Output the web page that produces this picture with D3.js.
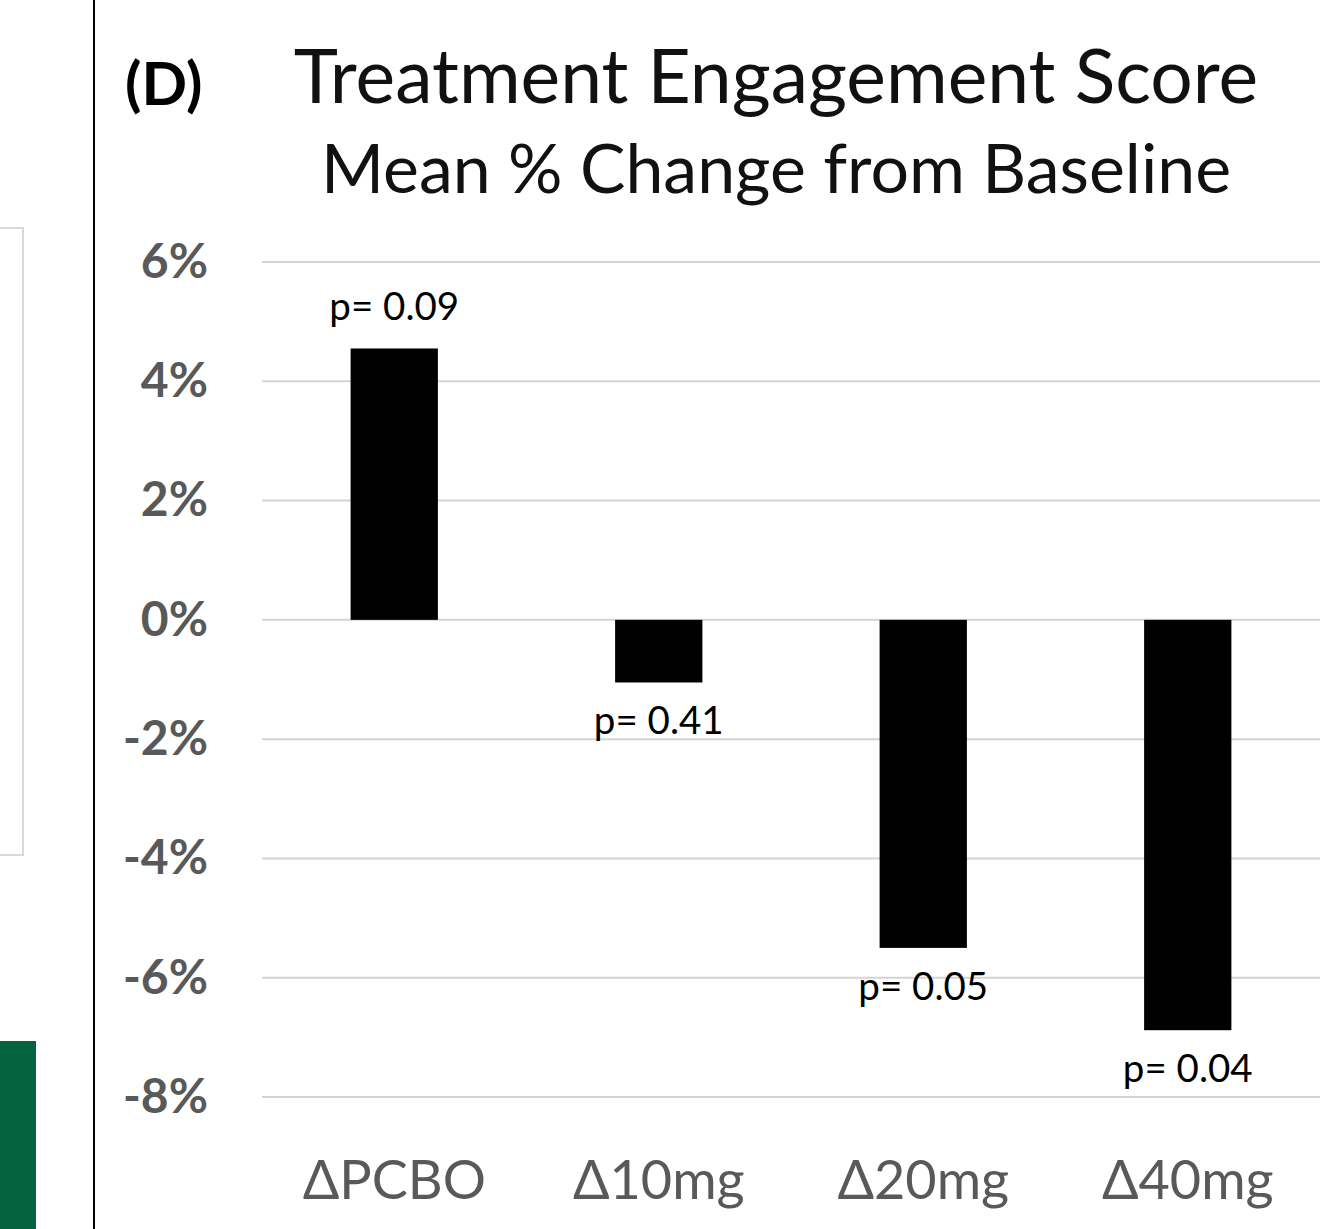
<!DOCTYPE html>
<html>
<head>
<meta charset="utf-8">
<script src="https://cdn.jsdelivr.net/npm/d3@7"></script>
<style>
  body { margin: 0; background: #fff; }
  svg { display: block; font-family: Lato, "Open Sans", sans-serif; }
</style>
</head>
<body>
<svg width="1321" height="1229"></svg>
<script>
const categories = ["ΔPCBO", "Δ10mg", "Δ20mg", "Δ40mg"];
const meanChange = [4.55, -1.05, -5.5, -6.88];
const pValues = ["p= 0.09", "p= 0.41", "p= 0.05", "p= 0.04"];
const yTicks = [6, 4, 2, 0, -2, -4, -6, -8];

const svg = d3.select("svg");

// bits of the neighbouring panels
svg.append("rect")
    .attr("x", -10).attr("y", 228)
    .attr("width", 33).attr("height", 627)
    .attr("fill", "none")
    .attr("stroke", "#d9d9d9")
    .attr("stroke-width", 2);

svg.append("rect")
    .attr("x", 0).attr("y", 1041)
    .attr("width", 36).attr("height", 188)
    .attr("fill", "#056340");

svg.append("line")
    .attr("x1", 94).attr("x2", 94)
    .attr("y1", 0).attr("y2", 1229)
    .attr("stroke", "#000")
    .attr("stroke-width", 2);

const margin = {top: 262, left: 262, right: 1, bottom: 132};
const width = 1321 - margin.left - margin.right,
      height = 1229 - margin.top - margin.bottom;

const g = svg.append("g")
    .attr("transform", `translate(${margin.left},${margin.top})`);

const x = d3.scaleBand()
    .domain(categories)
    .range([0, width]);

const y = d3.scaleLinear()
    .domain([6, -8])
    .range([0, 1097 - 262]);

// grid lines
g.selectAll(".grid")
    .data(yTicks)
    .enter().append("line")
    .attr("class", "grid")
    .attr("x1", 0).attr("x2", width)
    .attr("y1", d => y(d)).attr("y2", d => y(d))
    .attr("stroke", "#d4d4d4")
    .attr("stroke-width", 2);

// y axis labels
const yAxis = g.append("g")
    .attr("class", "y-axis")
    .call(d3.axisLeft(y).tickValues(yTicks).tickFormat(d => d + "%").tickSize(0).tickPadding(54));
yAxis.select(".domain").remove();
yAxis.selectAll("text")
    .attr("fill", "#595959")
    .style("font-size", "48px")
    .style("font-weight", "bold")
    .style("font-family", "Lato, sans-serif");

// x axis labels
const xAxis = g.append("g")
    .attr("class", "x-axis")
    .attr("transform", `translate(0,${y(-8)})`)
    .call(d3.axisBottom(x).tickSize(0).tickPadding(64));
xAxis.select(".domain").remove();
xAxis.selectAll("text")
    .attr("fill", "#595959")
    .style("font-size", "54px")
    .style("font-family", "Lato, sans-serif");

const barW = x.bandwidth() * 0.33;

g.selectAll(".bar")
    .data(meanChange)
    .enter().append("rect")
    .attr("class", "bar")
    .attr("x", (d, i) => x(categories[i]) + (x.bandwidth() - barW) / 2)
    .attr("y", d => y(Math.max(d, 0)))
    .attr("width", barW)
    .attr("height", d => Math.abs(y(d) - y(0)))
    .attr("fill", "#000");

g.selectAll(".plabel")
    .data(meanChange)
    .enter().append("text")
    .attr("class", "plabel")
    .attr("x", (d, i) => x(categories[i]) + x.bandwidth() / 2)
    .attr("y", d => d >= 0 ? y(d) - 28 : y(d) + 52)
    .attr("text-anchor", "middle")
    .style("font-size", "38.5px")
    .attr("fill", "#000")
    .text((d, i) => pValues[i]);

// titles
svg.append("text")
    .attr("x", 125).attr("y", 105)
    .style("font-size", "60px")
    .style("font-weight", "bold")
    .text("(D)");

svg.append("text")
    .attr("x", 776).attr("y", 103)
    .attr("text-anchor", "middle")
    .style("font-size", "75px")
    .attr("fill", "#111")
    .text("Treatment Engagement Score");

svg.append("text")
    .attr("x", 776).attr("y", 193)
    .attr("text-anchor", "middle")
    .style("font-size", "68px")
    .attr("fill", "#111")
    .text("Mean % Change from Baseline");
</script>
</body>
</html>
